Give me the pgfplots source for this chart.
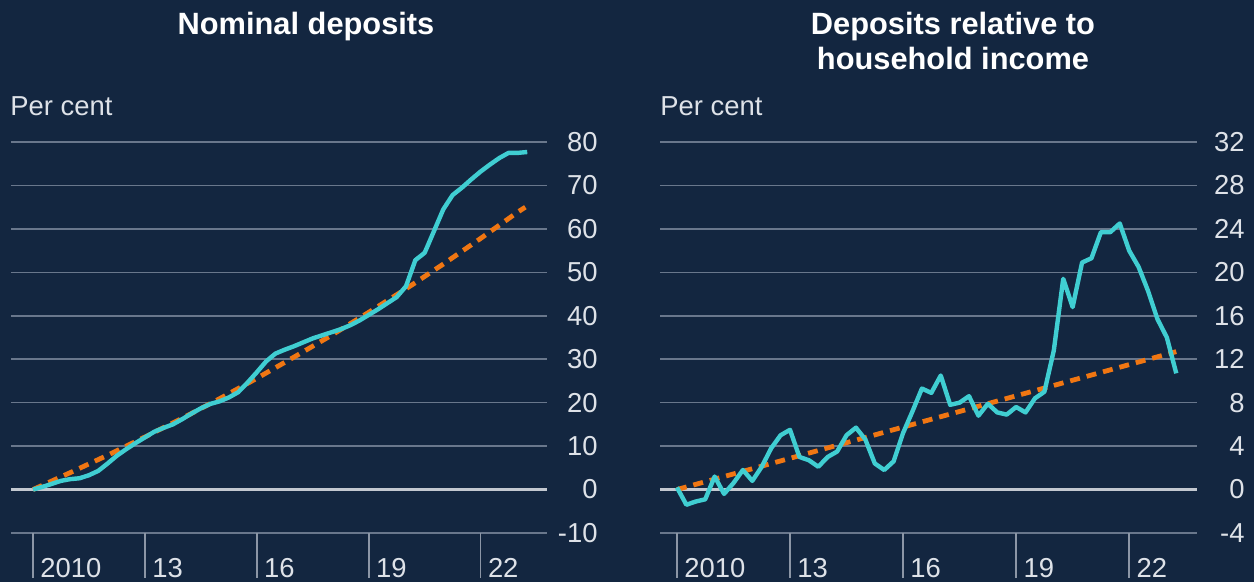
\documentclass[border=0pt]{standalone}
\usepackage{pgfplots}
\pgfplotsset{compat=1.18}
\usepackage{fontspec}
\setmainfont{Liberation Sans}

\definecolor{bg}{RGB}{19,38,64}
\definecolor{gridc}{RGB}{105,119,140}
\definecolor{zeroc}{RGB}{195,200,208}
\definecolor{tickc}{RGB}{140,150,166}
\definecolor{txt}{RGB}{222,226,232}
\definecolor{cyanl}{RGB}{64,206,210}
\definecolor{orangel}{RGB}{240,118,18}

\pgfplotsset{
  panel/.style={
    scale only axis,
    height=195.5pt,
    axis line style={draw=none},
    ymajorgrids,
    grid style={draw=gridc, line width=0.8pt},
    xtick={2010,2013,2016,2019,2022},
    xticklabels={2010,13,16,19,22},
    xtick pos=lower,
    tick align=outside,
    major tick length=22.5pt,
    xtick style={draw=tickc, line width=0.8pt},
    ytick style={draw=none},
    yticklabel pos=right,
    ticklabel style={font=\fontsize{13.7}{16}\selectfont, text=txt, inner sep=0pt},
    xticklabel style={anchor=base west, xshift=3.5pt},
    yticklabel style={anchor=east},
    /pgf/number format/assume math mode=true,
    extra y ticks={0}, extra y tick labels={},
    extra y tick style={grid style={draw=zeroc, line width=1.5pt}, major tick length=0pt},
  },
  cyanline/.style={color=cyanl, line width=2.2pt, line join=round},
  trendline/.style={color=orangel, line width=2.4pt, dash pattern=on 5pt off 3.5pt},
}

\begin{document}
\begin{tikzpicture}
\fill[bg] (0,0) rectangle (627pt,291pt);
\useasboundingbox (0,0) rectangle (627pt,291pt);

% left panel: nominal deposits
\begin{axis}[panel, at={(5.5pt,24.5pt)}, anchor=south west,
  width=268pt, xmin=2009.41, xmax=2023.78,
  ymin=-10, ymax=80, ytick={-10,0,...,80},
  yticklabel style={xshift=3pt}]
\addplot[trendline] coordinates {
(2010,0) (2011,3.9) (2012,7.9) (2013,12.1) (2014,16.4) (2015,20.9)
(2016,25.6) (2017,30.5) (2018,35.5) (2019,40.8) (2020,46.2)
(2021,51.9) (2022,57.8) (2023,63.9) (2023.2,65.0)};
\addplot[cyanline] coordinates {
(2010.00,0.0) (2010.25,0.6) (2010.50,1.3) (2010.75,2.0)
(2011.00,2.4) (2011.25,2.6) (2011.50,3.3) (2011.75,4.3)
(2012.00,6.0) (2012.25,7.8) (2012.50,9.3) (2012.75,10.7)
(2013.00,12.0) (2013.25,13.3) (2013.50,14.2) (2013.75,15.0)
(2014.00,16.2) (2014.25,17.5) (2014.50,18.7) (2014.75,19.7)
(2015.00,20.3) (2015.25,21.2) (2015.50,22.4) (2015.75,24.6)
(2016.00,27.0) (2016.25,29.5) (2016.50,31.3) (2016.75,32.2)
(2017.00,33.0) (2017.25,33.9) (2017.50,34.8) (2017.75,35.5)
(2018.00,36.2) (2018.25,36.9) (2018.50,37.8) (2018.75,38.9)
(2019.00,40.2) (2019.25,41.5) (2019.50,42.9) (2019.75,44.3)
(2020.00,46.8) (2020.25,52.8) (2020.50,54.5) (2020.75,59.5)
(2021.00,64.5) (2021.25,67.8) (2021.50,69.5) (2021.75,71.4)
(2022.00,73.2) (2022.25,74.8) (2022.50,76.3) (2022.75,77.5)
(2023.00,77.5) (2023.25,77.7)};
\end{axis}

% right panel: deposits relative to household income
\begin{axis}[panel, at={(330pt,24.5pt)}, anchor=south west,
  width=268.5pt, xmin=2009.55, xmax=2023.80,
  ymin=-4, ymax=32, ytick={-4,0,...,32},
  yticklabel style={xshift=1.5pt}]
\addplot[trendline] coordinates {(2010,0) (2023.25,12.7)};
\addplot[cyanline] coordinates {
(2010.00,0.2) (2010.25,-1.4) (2010.50,-1.1) (2010.75,-0.9)
(2011.00,1.2) (2011.25,-0.4) (2011.50,0.6) (2011.75,1.8)
(2012.00,0.8) (2012.25,2.1) (2012.50,3.8) (2012.75,5.0)
(2013.00,5.5) (2013.25,3.0) (2013.50,2.7) (2013.75,2.1)
(2014.00,3.0) (2014.25,3.5) (2014.50,5.0) (2014.75,5.7)
(2015.00,4.6) (2015.25,2.4) (2015.50,1.8) (2015.75,2.6)
(2016.00,5.2) (2016.25,7.2) (2016.50,9.3) (2016.75,8.9)
(2017.00,10.5) (2017.25,7.8) (2017.50,8.0) (2017.75,8.6)
(2018.00,6.8) (2018.25,7.9) (2018.50,7.1) (2018.75,6.9)
(2019.00,7.6) (2019.25,7.1) (2019.50,8.4) (2019.75,9.0)
(2020.00,12.8) (2020.25,19.4) (2020.50,16.8) (2020.75,20.9)
(2021.00,21.3) (2021.25,23.7) (2021.50,23.7) (2021.75,24.5)
(2022.00,22.0) (2022.25,20.5) (2022.50,18.3) (2022.75,15.7)
(2023.00,14.0) (2023.25,10.7)};
\end{axis}

% titles and units
\begin{scope}[every node/.style={text=txt, inner sep=0pt}]
\node[anchor=base, font=\fontsize{15.4}{17.5}\selectfont\bfseries, text=white] at (153pt,273.5pt) {Nominal deposits};
\node[anchor=base, font=\fontsize{15.4}{17.5}\selectfont\bfseries, text=white] at (476.5pt,273.5pt) {Deposits relative to};
\node[anchor=base, font=\fontsize{15.4}{17.5}\selectfont\bfseries, text=white] at (476.5pt,256pt) {household income};
\node[anchor=base west, font=\fontsize{13.7}{16}\selectfont] at (5pt,233pt) {Per cent};
\node[anchor=base west, font=\fontsize{13.7}{16}\selectfont] at (330pt,233pt) {Per cent};
\end{scope}
\end{tikzpicture}
\end{document}
